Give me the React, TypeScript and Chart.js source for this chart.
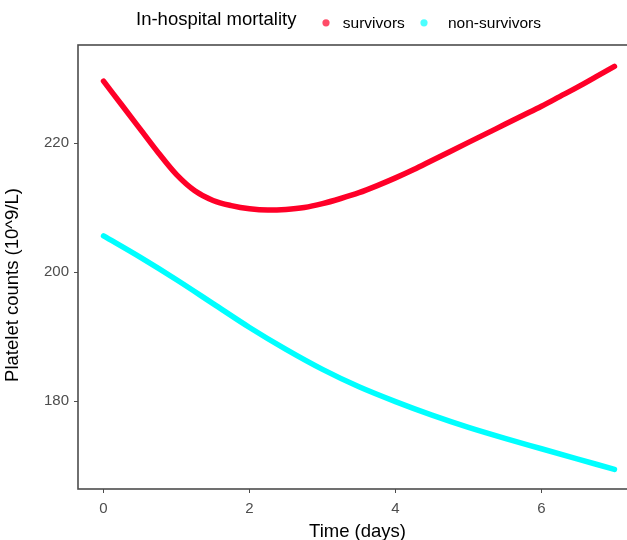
import React, { useEffect, useRef } from "react";
import { Chart, registerables } from "chart.js";

Chart.register(...registerables);

const survivorDays = [0, 0.25, 0.5, 0.75, 1, 1.25, 1.5, 1.75, 2, 2.25, 2.5, 2.75, 3, 3.25, 3.5, 3.75, 4, 4.25, 4.5, 4.75, 5, 5.25, 5.5, 5.75, 6, 6.25, 6.5, 6.75, 7];
const survivorValues = [229.6, 225.9, 222.2, 218.5, 215.1, 212.6, 211.1, 210.3, 209.8, 209.6, 209.7, 210.0, 210.6, 211.4, 212.3, 213.4, 214.6, 215.9, 217.3, 218.7, 220.1, 221.5, 222.9, 224.3, 225.7, 227.2, 228.7, 230.3, 231.9];

const nonSurvivorDays = [0, 0.5, 1, 1.5, 2, 2.5, 3, 3.5, 4, 4.5, 5, 5.5, 6, 6.5, 7];
const nonSurvivorValues = [205.6, 202.3, 198.8, 195.1, 191.4, 188.0, 184.9, 182.2, 179.9, 177.8, 175.9, 174.2, 172.6, 171.0, 169.4];

const xTicks = [0, 2, 4, 6];
const yTicks = [180, 200, 220];

const legendTitle = "In-hospital mortality";
const seriesNames = ["survivors", "non-survivors"];
const xTitle = "Time (days)";
const yTitle = "Platelet counts (10^9/L)";

const FONT = '"Liberation Sans", Arial, Helvetica, sans-serif';
const RED = "rgb(255, 0, 40)";
const CYAN = "rgb(0, 255, 255)";
const RED_KEY = "rgba(255, 0, 40, 0.7)";
const CYAN_KEY = "rgba(0, 255, 255, 0.7)";
const AXIS = "#4d4d4d";

const decor = {
  id: "decor",
  afterDraw(chart: any) {
    const { ctx, chartArea } = chart;
    const { left, top, right, bottom } = chartArea;
    ctx.save();
    ctx.strokeStyle = AXIS;
    ctx.lineWidth = 1.6;
    ctx.strokeRect(left, top, right - left, bottom - top);

    ctx.fillStyle = "#000";
    ctx.font = `18.5px ${FONT}`;
    ctx.textAlign = "center";
    ctx.textBaseline = "alphabetic";
    ctx.fillText(xTitle, 357.5, 537);

    ctx.save();
    ctx.translate(17.5, 285);
    ctx.rotate(-Math.PI / 2);
    ctx.fillText(yTitle, 0, 0);
    ctx.restore();

    ctx.textAlign = "left";
    ctx.font = `18.5px ${FONT}`;
    ctx.fillText(legendTitle, 136, 24.5);

    ctx.font = `15.5px ${FONT}`;
    ctx.fillStyle = RED_KEY;
    ctx.beginPath();
    ctx.arc(326, 22.8, 3.6, 0, Math.PI * 2);
    ctx.fill();
    ctx.fillStyle = "#000";
    ctx.fillText(seriesNames[0], 342.8, 27.5);

    ctx.fillStyle = CYAN_KEY;
    ctx.beginPath();
    ctx.arc(424, 22.8, 3.6, 0, Math.PI * 2);
    ctx.fill();
    ctx.fillStyle = "#000";
    ctx.fillText(seriesNames[1], 448, 27.5);
    ctx.restore();
  },
};

export default function App() {
  const ref = useRef<HTMLCanvasElement | null>(null);

  useEffect(() => {
    if (!ref.current) return;
    const chart = new Chart(ref.current, {
      type: "line",
      data: {
        datasets: [
          {
            label: seriesNames[0],
            data: survivorDays.map((d, i) => ({ x: d, y: survivorValues[i] })),
            borderColor: RED,
            backgroundColor: RED,
            borderWidth: 5.5,
            pointRadius: 0,
            cubicInterpolationMode: "monotone",
            borderCapStyle: "round",
            borderJoinStyle: "round",
            fill: false,
          },
          {
            label: seriesNames[1],
            data: nonSurvivorDays.map((d, i) => ({ x: d, y: nonSurvivorValues[i] })),
            borderColor: CYAN,
            backgroundColor: CYAN,
            borderWidth: 5.5,
            pointRadius: 0,
            cubicInterpolationMode: "monotone",
            borderCapStyle: "round",
            borderJoinStyle: "round",
            fill: false,
          },
        ],
      },
      options: {
        animation: false,
        responsive: false,
        maintainAspectRatio: false,
        devicePixelRatio: 1,
        layout: { padding: { top: 45, right: 20, left: 0, bottom: 0 } },
        plugins: { legend: { display: false }, tooltip: { enabled: false }, title: { display: false } },
        scales: {
          x: {
            type: "linear",
            min: -0.35,
            max: 7.35,
            afterBuildTicks: (s: any) => {
              s.ticks = xTicks.map((v) => ({ value: v }));
            },
            afterFit: (s: any) => {
              s.height = 51;
            },
            ticks: {
              color: AXIS,
              font: { size: 15, family: FONT },
              padding: 7,
              maxRotation: 0,
              callback: (v: any) => String(v),
            },
            grid: { drawOnChartArea: false, tickLength: 4, color: AXIS, lineWidth: 1 },
            border: { display: false },
          },
          y: {
            type: "linear",
            min: 166.36,
            max: 235.2,
            afterBuildTicks: (s: any) => {
              s.ticks = yTicks.map((v) => ({ value: v }));
            },
            afterFit: (s: any) => {
              s.width = 78;
            },
            ticks: {
              color: AXIS,
              font: { size: 15, family: FONT },
              padding: 5,
              callback: (v: any) => String(v),
            },
            grid: { drawOnChartArea: false, tickLength: 4, color: AXIS, lineWidth: 1 },
            border: { display: false },
          },
        },
      },
      plugins: [decor],
    });
    return () => chart.destroy();
  }, []);

  return (
    <div style={{ position: "fixed", left: 0, top: 0, width: 660, height: 540, background: "#fff" }}>
      <canvas ref={ref} width={660} height={540} style={{ display: "block" }} />
    </div>
  );
}
